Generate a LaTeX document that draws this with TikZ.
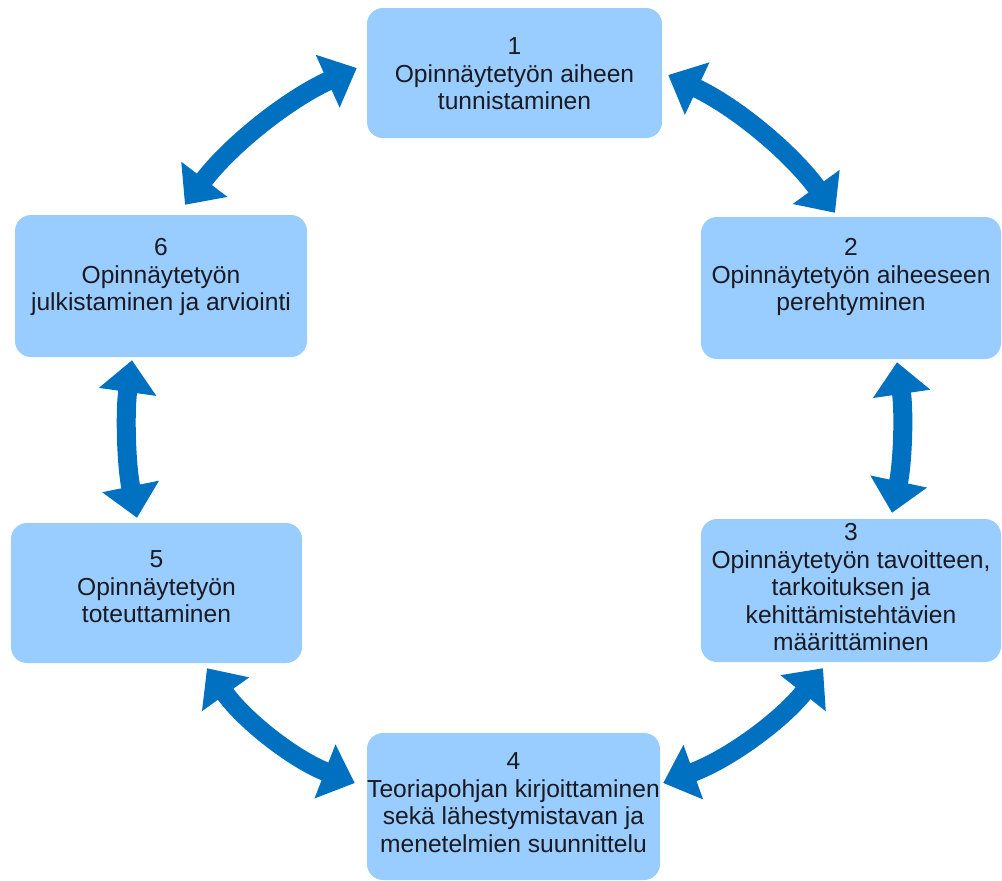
\documentclass[tikz,border=0pt]{standalone}
\usepackage{fontspec}
\setmainfont{Liberation Sans}
\usetikzlibrary{arrows.meta}
\definecolor{boxfill}{HTML}{99CCFF}
\definecolor{arrowblue}{HTML}{0070C0}
\definecolor{textdark}{HTML}{1A1A22}
\begin{document}
\begin{tikzpicture}[x=1pt,y=-1pt,
  stagebox/.style={fill=boxfill,draw=none,rounded corners=16pt,inner sep=0pt},
  stagetext/.style={align=center,font=\fontsize{24.6}{27.5}\selectfont,text=textdark,inner sep=0pt},
  dblarrow/.style={draw=arrowblue,line width=19pt,
    {Triangle[length=32pt,width=56pt]}-{Triangle[length=32pt,width=56pt]}}]
\useasboundingbox (0,0) rectangle (1002,881);
% boxes
\node[stagebox,minimum width=295pt,minimum height=130pt] (b1) at (514.5,73) {};
\node[stagebox,minimum width=300pt,minimum height=142pt] (b2) at (851,288) {};
\node[stagebox,minimum width=300pt,minimum height=143pt] (b3) at (851,590.5) {};
\node[stagebox,minimum width=293pt,minimum height=147pt] (b4) at (513.5,806.5) {};
\node[stagebox,minimum width=291pt,minimum height=140pt] (b5) at (156.5,593) {};
\node[stagebox,minimum width=292pt,minimum height=142pt] (b6) at (161,286) {};
% texts
\node[stagetext] (t1) at ([yshift=-1pt]b1.center) {1\\Opinnäytetyön aiheen\\tunnistaminen};
\node[stagetext] (t2) at ([yshift=11pt]b2.center) {2\\Opinnäytetyön aiheeseen\\perehtyminen};
\node[stagetext] (t3) at ([yshift=3pt]b3.center) {3\\Opinnäytetyön tavoitteen,\\tarkoituksen ja\\kehittämistehtävien\\määrittäminen};
\node[stagetext] (t4) at ([yshift=4pt]b4.center) {4\\Teoriapohjan kirjoittaminen\\sekä lähestymistavan ja\\menetelmien suunnittelu};
\node[stagetext] (t5) at ([yshift=6pt]b5.center) {5\\Opinnäytetyön\\toteuttaminen};
\node[stagetext] (t6) at ([yshift=9pt]b6.center) {6\\Opinnäytetyön\\julkistaminen ja arviointi};
% arrow end points
\coordinate (a12s) at ([shift={(6,2)}]b1.east);
\coordinate (a12e) at ([shift={(-16,-4)}]b2.north);
\coordinate (a23s) at ([shift={(46,3)}]b2.south);
\coordinate (a23e) at ([shift={(41,-6)}]b3.north);
\coordinate (a34s) at ([shift={(-28,6)}]b3.south);
\coordinate (a34e) at ([shift={(3,-23.5)}]b4.east);
\coordinate (a45s) at ([shift={(-12,-23.5)}]b4.west);
\coordinate (a45e) at ([shift={(50.5,5)}]b5.south);
\coordinate (a56s) at ([shift={(-19.5,-5)}]b5.north);
\coordinate (a56e) at ([shift={(-29,3)}]b6.south);
\coordinate (a61s) at ([shift={(24,-10)}]b6.north);
\coordinate (a61e) at ([shift={(-10,-5)}]b1.west);
% arrows
\draw[dblarrow] (a12s) .. controls (735.6,106.6) and (791.2,152.6) .. (a12e);
\draw[dblarrow] (a23s) .. controls (904.3,412.3) and (902.7,462.7) .. (a23e);
\draw[dblarrow] (a34s) .. controls (780.6,721.5) and (727.2,759.9) .. (a34e);
\draw[dblarrow] (a45s) .. controls (294.2,759.5) and (244.8,721.1) .. (a45e);
\draw[dblarrow] (a56s) .. controls (126.3,465.3) and (124.7,412.7) .. (a56e);
\draw[dblarrow] (a61s) .. controls (230.7,144.7) and (288.1,99.1) .. (a61e);
\end{tikzpicture}
\end{document}
